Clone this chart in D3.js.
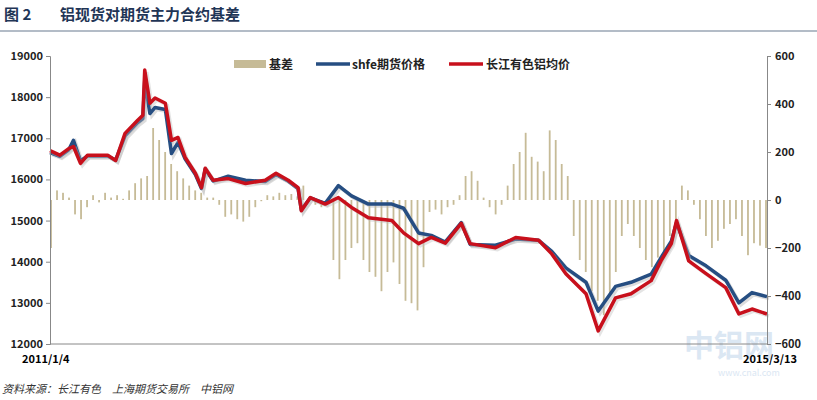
<!doctype html>
<html>
<head>
<meta charset="utf-8">
<title>铝现货对期货主力合约基差</title>
<style>
  body { margin: 0; background: #fff; }
  text { font-family: "Noto Sans CJK SC", "DejaVu Sans", sans-serif; }
</style>
</head>
<body>
<svg width="817" height="400"></svg>
<script src="https://cdn.jsdelivr.net/npm/d3@7"></script>
<script>
// price dates and values (yuan/ton)
var dates = ["2011-01-04","2011-01-25","2011-02-13","2011-02-23","2011-03-10","2011-03-25","2011-05-07","2011-05-24",
  "2011-06-13","2011-07-10","2011-07-21","2011-07-25","2011-08-05","2011-08-16","2011-09-07","2011-09-20","2011-10-04",
  "2011-10-19","2011-11-10","2011-11-23","2011-12-01","2011-12-18","2012-01-19","2012-02-25","2012-04-07","2012-04-30",
  "2012-05-26","2012-06-16","2012-06-23","2012-07-12","2012-08-13","2012-09-10","2012-10-08","2012-11-13","2013-01-02",
  "2013-01-27","2013-02-28","2013-03-27","2013-04-26","2013-05-30","2013-06-18","2013-08-11","2013-09-23","2013-11-11",
  "2013-12-09","2014-01-08","2014-02-20","2014-03-18","2014-04-24","2014-05-27","2014-07-09","2014-07-30","2014-08-21",
  "2014-09-01","2014-09-27","2014-11-03","2014-12-15","2015-01-12","2015-02-09","2015-03-13"];
var spot = [16700,16590,16750,16800,16390,16590,16590,16460,17120,17440,17560,18660,17850,17980,17850,16950,17020,
  16540,16150,15800,16270,15980,16020,15900,15980,16150,15980,15800,15240,15560,15400,15560,15320,15070,15000,
  14700,14440,14590,14450,14930,14440,14340,14590,14520,14190,13710,13220,12320,13120,13220,13540,14020,14440,
  15000,14020,13710,13370,12730,12850,12730];
var shfe = [16650,16560,16720,16950,16450,16570,16570,16470,17060,17380,17480,18400,17600,17750,17700,16630,16900,
  16500,16120,15780,16250,15960,16080,15980,15950,16120,15960,15780,15260,15550,15420,15850,15600,15400,15400,
  15300,14700,14640,14480,14950,14420,14400,14550,14520,14250,13850,13500,12800,13400,13500,13700,14100,14500,
  14950,14150,13900,13550,13000,13250,13150];
// basis (spot - futures), evenly spaced from 2011/1/4 to 2015/3/13
var basis = [-200,40,30,10,-60,-80,-30,20,-10,30,10,20,5,40,70,90,100,300,250,200,150,120,90,60,40,30,10,10,-20,
  -70,-60,-80,-90,-70,-30,-5,20,15,30,20,25,15,60,10,-20,-30,-10,-250,-330,-250,-200,-180,-250,-300,-320,-380,-300,
  -260,-350,-420,-430,-460,-280,-50,-40,-60,-30,-20,20,100,120,80,10,-30,-60,-20,60,150,200,280,180,160,120,290,250,
  150,100,-150,-250,-300,-380,-420,-480,-400,-300,-150,-100,-150,-200,-250,-280,-240,-220,-150,-80,60,40,-20,-80,
  -150,-200,-170,-120,-100,-80,-150,-230,-180,-190,-200];
var legendNames = ["基差", "shfe期货价格", "长江有色铝均价"];

var svg = d3.select("svg"),
    pl = 50, pr = 767, pt = 56, pb = 344;

var parse = d3.timeParse("%Y-%m-%d");
var x = d3.scaleTime().domain([parse(dates[0]), parse(dates[dates.length - 1])]).range([pl, pr]);
var xb = d3.scaleLinear().domain([0, basis.length - 1]).range([pl + 1, pr - 1]);
var y = d3.scaleLinear().domain([12000, 19000]).range([pb, pt]);
var y2 = d3.scaleLinear().domain([-600, 600]).range([pb, pt]);

// title
svg.append("text").attr("x", 4).attr("y", 20).attr("font-size", 15).attr("font-weight", "bold")
  .attr("fill", "#1f3556").text("图 2");
svg.append("text").attr("x", 60).attr("y", 20).attr("font-size", 15).attr("font-weight", "bold")
  .attr("fill", "#1f3556").text("铝现货对期货主力合约基差");
svg.append("line").attr("x1", 0).attr("x2", 817).attr("y1", 31).attr("y2", 31)
  .attr("stroke", "#9aa6b5").attr("stroke-width", 1.5);

// watermark
svg.append("text").attr("x", 684).attr("y", 356).attr("font-size", 30).attr("font-weight", "bold")
  .attr("fill", "#dbe7f3").text("中铝网");
svg.append("text").attr("x", 718).attr("y", 376).attr("font-size", 9)
  .attr("fill", "#dbe7f3").text("www.cnal.com");

// basis bars
svg.append("g").selectAll("rect").data(basis).enter().append("rect")
  .attr("x", function(d, i) { return xb(i) - 0.9; })
  .attr("width", 1.8)
  .attr("y", function(d) { return y2(Math.max(0, d)); })
  .attr("height", function(d) { return Math.abs(y2(d) - y2(0)); })
  .attr("fill", "#c6bb97");

var line = d3.line()
  .x(function(d, i) { return x(parse(dates[i])); })
  .y(function(d) { return y(d); });

svg.append("path").datum(shfe).attr("d", line).attr("fill", "none")
  .attr("stroke", "#bbb").attr("stroke-width", 3.5).attr("transform", "translate(2,2)").attr("opacity", 0.5);
svg.append("path").datum(shfe).attr("d", line).attr("fill", "none")
  .attr("stroke", "#264e82").attr("stroke-width", 3.5).attr("stroke-linejoin", "round");
svg.append("path").datum(spot).attr("d", line).attr("fill", "none")
  .attr("stroke", "#bbb").attr("stroke-width", 3.5).attr("transform", "translate(2,2)").attr("opacity", 0.4);
svg.append("path").datum(spot).attr("d", line).attr("fill", "none")
  .attr("stroke", "#c8101c").attr("stroke-width", 3.5).attr("stroke-linejoin", "round");

// axes
var yAxis = svg.append("g").attr("transform", "translate(" + pl + ",0)")
  .call(d3.axisLeft(y).tickValues(d3.range(12000, 19001, 1000)).tickSize(4).tickFormat(d3.format("d")));
var yAxis2 = svg.append("g").attr("transform", "translate(" + pr + ",0)")
  .call(d3.axisRight(y2).tickValues(d3.range(-600, 601, 200)).tickSize(4).tickFormat(d3.format("d")));
[yAxis, yAxis2].forEach(function(a) {
  a.select(".domain").attr("stroke", "#888");
  a.selectAll(".tick line").attr("stroke", "#888");
  a.selectAll("text").attr("font-size", 11).attr("font-weight", "bold").attr("fill", "#222")
    .attr("font-family", "'Liberation Sans', sans-serif");
});
yAxis2.selectAll("text").attr("x", 8);
svg.append("line").attr("x1", pl).attr("x2", pr).attr("y1", pb).attr("y2", pb)
  .attr("stroke", "#888");

svg.append("text").attr("x", 22).attr("y", 363).attr("font-size", 11).attr("font-weight", "bold")
  .attr("font-family", "'Liberation Sans', sans-serif").text("2011/1/4");
svg.append("text").attr("x", 797).attr("y", 363).attr("font-size", 11).attr("font-weight", "bold")
  .attr("text-anchor", "end").attr("font-family", "'Liberation Sans', sans-serif").text("2015/3/13");

// legend
var lg = svg.append("g").attr("font-size", 12).attr("font-weight", "bold").attr("fill", "#222");
lg.append("rect").attr("x", 234).attr("y", 60).attr("width", 32).attr("height", 8).attr("fill", "#c6bb97");
lg.append("text").attr("x", 269).attr("y", 69).text(legendNames[0]);
lg.append("line").attr("x1", 316).attr("x2", 350).attr("y1", 64).attr("y2", 64)
  .attr("stroke", "#264e82").attr("stroke-width", 3.5);
lg.append("text").attr("x", 352).attr("y", 69).text(legendNames[1]);
lg.append("line").attr("x1", 449).attr("x2", 483).attr("y1", 64).attr("y2", 64)
  .attr("stroke", "#c8101c").attr("stroke-width", 3.5);
lg.append("text").attr("x", 486).attr("y", 69).text(legendNames[2]);

// source
svg.append("text").attr("x", 2).attr("y", 393).attr("font-size", 11).attr("font-style", "italic")
  .attr("fill", "#333").text("资料来源：长江有色　上海期货交易所　中铝网");
</script>
</body>
</html>
